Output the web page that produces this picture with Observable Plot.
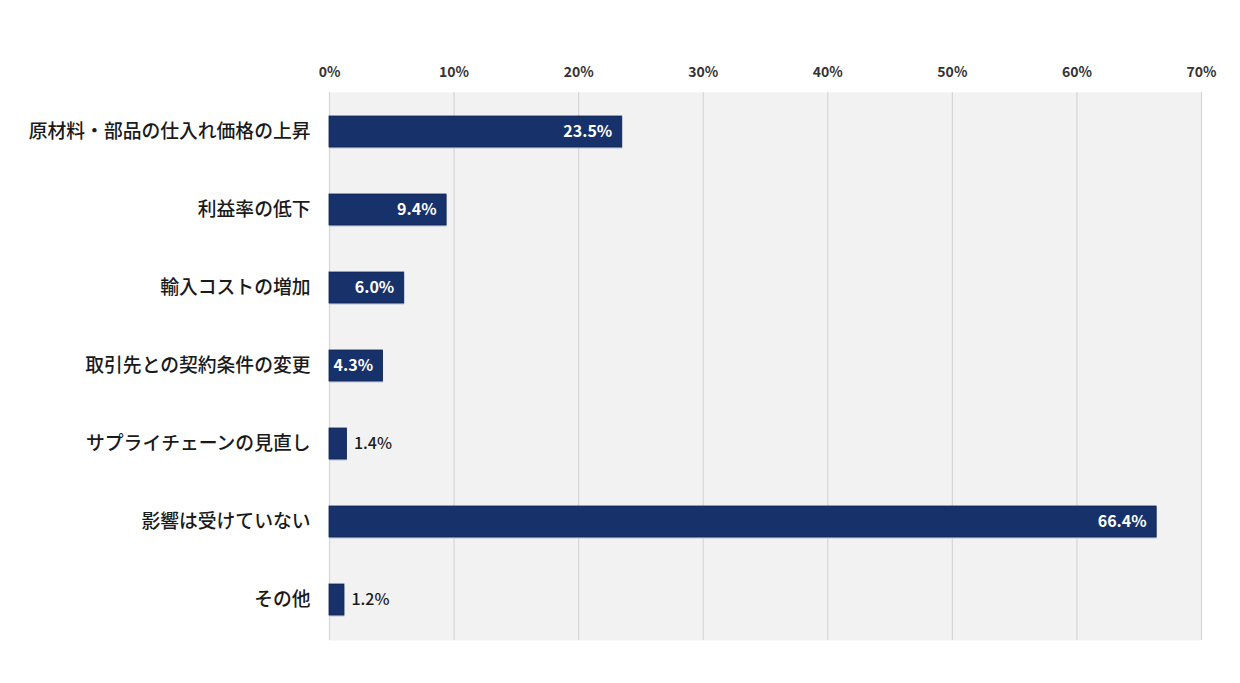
<!DOCTYPE html>
<html>
<head>
<meta charset="utf-8">
<script src="https://cdn.jsdelivr.net/npm/d3@7"></script>
<script src="https://cdn.jsdelivr.net/npm/@observablehq/plot@0.6"></script>
<style>
  html, body { margin: 0; padding: 0; background: #fff; }
  #chart svg { display: block; }
</style>
</head>
<body>
<div id="chart"></div>
<script>
const categories = [
  "原材料・部品の仕入れ価格の上昇",
  "利益率の低下",
  "輸入コストの増加",
  "取引先との契約条件の変更",
  "サプライチェーンの見直し",
  "影響は受けていない",
  "その他"
];
const values = [23.5, 9.4, 6.0, 4.3, 1.4, 66.4, 1.2];
const xTicks = [0, 10, 20, 30, 40, 50, 60, 70];

const data = categories.map((c, i) => ({category: c, value: values[i]}));
const inside = data.filter(d => d.value >= 3);
const outside = data.filter(d => d.value < 3);

const chart = Plot.plot({
  width: 1240,
  height: 683,
  marginLeft: 329,
  marginRight: 39,
  marginTop: 92,
  marginBottom: 43,
  style: {fontFamily: "'Noto Sans CJK JP', 'Noto Sans', sans-serif", background: "#fff"},
  x: {domain: [0, 70], ticks: xTicks, tickFormat: d => d + "%", axis: null},
  y: {domain: categories, paddingInner: 0.6, paddingOuter: 0.3, axis: null},
  marks: [
    Plot.frame({fill: "#f2f2f2", stroke: null}),
    Plot.ruleX(xTicks, {stroke: "#d6d6d6", strokeWidth: 1.2}),
    Plot.axisX({
      anchor: "top", ticks: xTicks, tickFormat: d => d + "%", tickSize: 0, tickPadding: 16,
      fontSize: 14, fontWeight: 600, fill: "#333", label: null
    }),
    Plot.axisY({
      tickSize: 0, tickPadding: 19, fontSize: 18.8, fontWeight: 500, fill: "#1a1a1a", label: null
    }),
    Plot.barX(data, {x: "value", y: "category", fill: "#bcc3d3", dx: 0.5, dy: 1.5}),
    Plot.barX(data, {x: "value", y: "category", fill: "#17316b", stroke: "#0f2550", strokeWidth: 0.8}),
    Plot.text(inside, {
      x: "value", y: "category", text: d => d.value.toFixed(1) + "%",
      textAnchor: "end", dx: -10, fill: "#fff", fontSize: 16, fontWeight: 600
    }),
    Plot.text(outside, {
      x: "value", y: "category", text: d => d.value.toFixed(1) + "%",
      textAnchor: "start", dx: 7, fill: "#1a1a1a", fontSize: 16, fontWeight: 500
    })
  ]
});
document.getElementById("chart").appendChild(chart);
</script>
</body>
</html>
